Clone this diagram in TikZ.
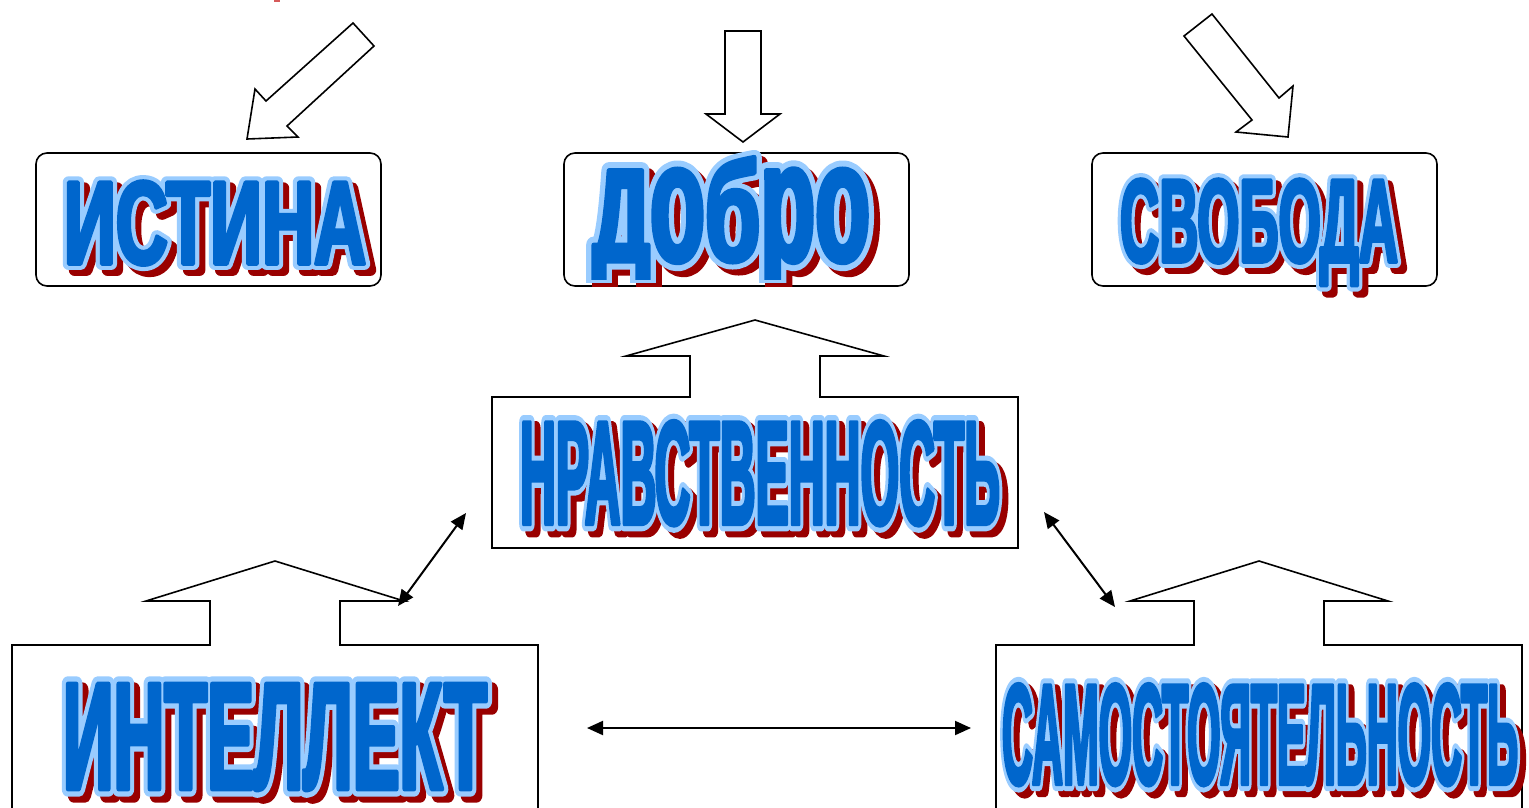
\documentclass[tikz,border=0pt]{standalone}
\usepackage{fontspec}
\usepackage{graphicx}
\usetikzlibrary{arrows.meta}
\setmainfont{Liberation Sans}
\definecolor{wablue}{RGB}{0,102,204}
\definecolor{walight}{RGB}{153,204,255}
\definecolor{wared}{RGB}{153,0,0}
\definecolor{frag}{RGB}{214,90,90}
\newcommand\wafont[1]{\fontsize{120}{120}\selectfont\bfseries\addfontfeatures{FakeStretch=0.6,FakeBold=#1}}
\newcommand\waout{10}
\newcommand\wain{3}
% name, x-left, y-baseline, width, height, text
\newcommand\waword[6]{%
  \node[wa,text=wared] at ({#2+6},{#3+6}) {\resizebox{#4pt}{#5pt}{\wafont{\waout}#6}};
  \node[wa,text=walight] at (#2,#3) {\resizebox{#4pt}{#5pt}{\wafont{\waout}#6}};
  \node[wa,text=wablue] (#1) at (#2,#3) {\resizebox{#4pt}{#5pt}{\wafont{\wain}#6}};
}
\tikzset{
  wa/.style={anchor=base west,inner sep=0pt,outer sep=0pt,line join=round,line cap=round},
  frame/.style={draw=black,line width=1.6pt,line join=miter},
  block/.style={draw=black,line width=1.6pt,fill=white,line join=miter},
  dbl/.style={line width=2pt,{Triangle[length=16pt,width=14pt]}-{Triangle[length=16pt,width=14pt]}}
}
\begin{document}
\begin{tikzpicture}[x=1pt,y=-1pt]
\useasboundingbox (0,0) rectangle (1529,807);
\fill[white] (0,0) rectangle (1529,807);
% small red fragment at the top edge
\fill[frag] (274,-1) rectangle (280,2);

% top rounded boxes
\draw[frame,rounded corners=11pt] (36,153) rectangle (381,286);
\draw[frame,rounded corners=11pt] (564,153) rectangle (909,286);
\draw[frame,rounded corners=11pt] (1092,153) rectangle (1437,286);

% block arrows
\draw[block] (353,23) -- (374,46) -- (287,126) -- (298,137) -- (247,139) -- (255,89) -- (266,101) -- cycle;
\draw[block] (725,31) -- (761,31) -- (761,114) -- (780,114) -- (743,142) -- (706,114) -- (725,114) -- cycle;
\draw[block] (1212,14) -- (1279,98) -- (1293,86) -- (1288,137) -- (1236,132) -- (1252,120) -- (1184,36) -- cycle;

% up-arrow callouts
\draw[frame] (492,548) -- (492,397) -- (690,397) -- (690,356) -- (626,356) -- (755,320) -- (884,356) -- (820,356) -- (820,397) -- (1018,397) -- (1018,548) -- cycle;
\draw[frame] (12,810) -- (12,645) -- (210,645) -- (210,601) -- (146,601) -- (275,561) -- (404,601) -- (340,601) -- (340,645) -- (538,645) -- (538,810);
\draw[frame] (996,810) -- (996,645) -- (1194,645) -- (1194,601) -- (1130,601) -- (1259,561) -- (1388,601) -- (1324,601) -- (1324,645) -- (1522,645) -- (1522,810);

% words
\waword{istina}{64}{264}{302}{83}{ИСТИНА}
\begin{scope}
  \clip (560,100) rectangle (915,286);
  \node[wa,text=wared] at (599,267) {\resizebox{277pt}{104pt}{\wafont{\waout}до\scalebox{1}[0.83]{б}ро}};
\end{scope}
\begin{scope}
  \clip (560,100) rectangle (915,282);
  \node[wa,text=walight] at (593,261) {\resizebox{277pt}{104pt}{\wafont{\waout}до\scalebox{1}[0.83]{б}ро}};
\end{scope}
\begin{scope}
  \clip (560,100) rectangle (915,279);
  \node[wa,text=wablue] (dobro) at (593,261) {\resizebox{277pt}{104pt}{\wafont{\wain}до\scalebox{1}[0.83]{б}ро}};
\end{scope}
\waword{svoboda}{1120}{262}{278}{83}{СВОБОДА}
\waword{nravs}{520}{524}{480}{103}{НРАВСТВЕННОСТЬ}
\waword{intel}{63}{789}{424}{105}{ИНТЕЛЛЕКТ}
\waword{samost}{1002}{784}{516}{100}{САМОСТОЯТЕЛЬНОСТЬ}

% double arrows
\coordinate (a1) at (398,606);
\coordinate (a2) at (466,513);
\coordinate (b1) at (1044,512);
\coordinate (b2) at (1115,607);
\coordinate (c1) at (587,728);
\coordinate (c2) at (971,728);
\draw[dbl] (a1) -- (a2);
\draw[dbl] (b1) -- (b2);
\draw[dbl] (c1) -- (c2);
\end{tikzpicture}
\end{document}
